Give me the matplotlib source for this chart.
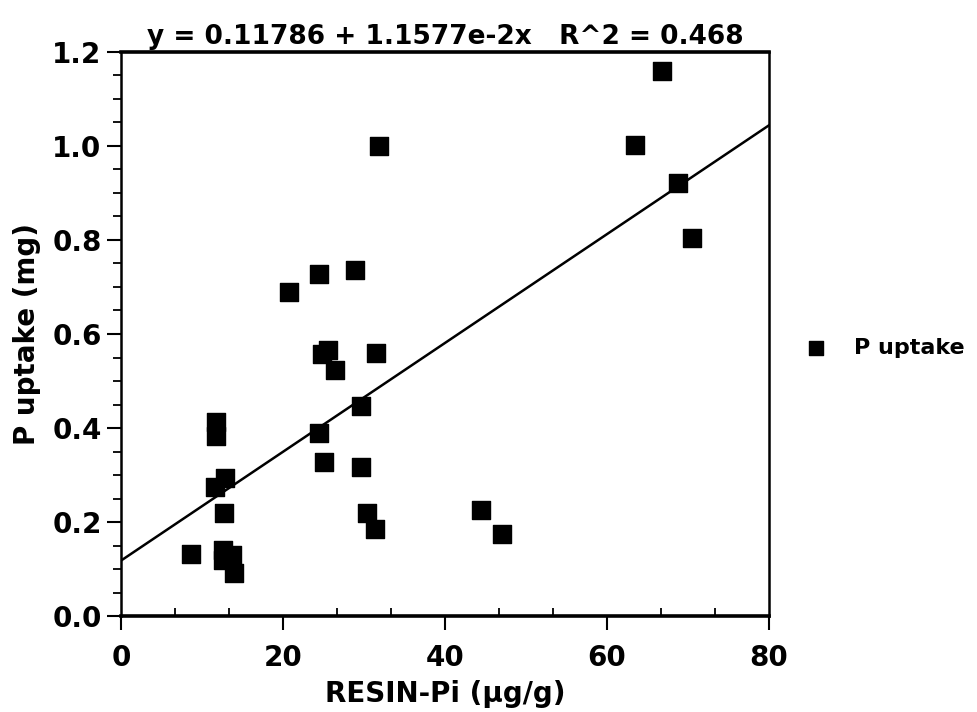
import numpy as np
import matplotlib
matplotlib.use('Agg')
import matplotlib.pyplot as plt
from matplotlib.ticker import MultipleLocator

# data
resin_pi = [8.7, 11.7, 11.7, 11.6, 12.8, 12.7, 12.6, 12.6, 13.7, 13.9,
            20.7, 24.4, 28.9, 24.8, 25.6, 26.4, 31.5, 29.6, 24.4, 25.1,
            29.6, 30.4, 31.3, 44.4, 47.0, 31.9, 66.8, 63.4, 68.8, 70.5]
p_uptake = [0.131, 0.412, 0.384, 0.274, 0.294, 0.219, 0.141, 0.120, 0.130, 0.091,
            0.690, 0.727, 0.737, 0.558, 0.565, 0.524, 0.560, 0.446, 0.389, 0.328,
            0.317, 0.220, 0.186, 0.226, 0.174, 0.999, 1.160, 1.003, 0.922, 0.804]

intercept = 0.11786
slope = 1.1577e-2
r2 = 0.468

plt.rcParams['font.family'] = ['DejaVu Sans']
plt.rcParams['font.weight'] = 'bold'

fig = plt.figure(figsize=(9.78, 7.12), dpi=100)
ax = fig.add_axes([0.1237, 0.1348, 0.6626, 0.7922])

ax.scatter(resin_pi, p_uptake, marker='s', s=150, color='black',
           label='P uptake', zorder=3)
xfit = np.array([0, 80])
ax.plot(xfit, intercept + slope * xfit, color='black', lw=1.8, zorder=2)

ax.set_xlim(0, 80)
ax.set_ylim(0, 1.2)
ax.xaxis.set_major_locator(MultipleLocator(20))
ax.xaxis.set_minor_locator(MultipleLocator(20 / 3))
ax.yaxis.set_major_locator(MultipleLocator(0.2))
ax.yaxis.set_minor_locator(MultipleLocator(0.05))
ax.yaxis.set_major_formatter(plt.FormatStrFormatter('%.1f'))

ax.tick_params(axis='both', which='major', length=10, width=1.5,
               labelsize=20, direction='out')
ax.tick_params(axis='x', which='minor', length=6, width=1.3, direction='in')
ax.tick_params(axis='y', which='minor', length=6, width=1.3, direction='out')
ax.tick_params(axis='x', pad=10)
ax.tick_params(axis='y', pad=4)

for side in ['top', 'bottom']:
    ax.spines[side].set_linewidth(2.6)
for side in ['left', 'right']:
    ax.spines[side].set_linewidth(1.8)

ax.set_title('y = 0.11786 + 1.1577e-2x   R^2 = %.3f' % r2,
             fontsize=19, fontweight='bold', pad=6)
ax.set_xlabel('RESIN-Pi (µg/g)', fontsize=20, fontweight='bold', labelpad=6)
ax.set_ylabel('P uptake (mg)', fontsize=20, fontweight='bold', labelpad=8)

fig.legend(loc='center left', bbox_to_anchor=(0.825, 0.511), frameon=False,
           fontsize=16, handlelength=0.8, handletextpad=1.3, markerscale=0.8,
           borderpad=0, borderaxespad=0)

plt.savefig('out.png', dpi=100)
